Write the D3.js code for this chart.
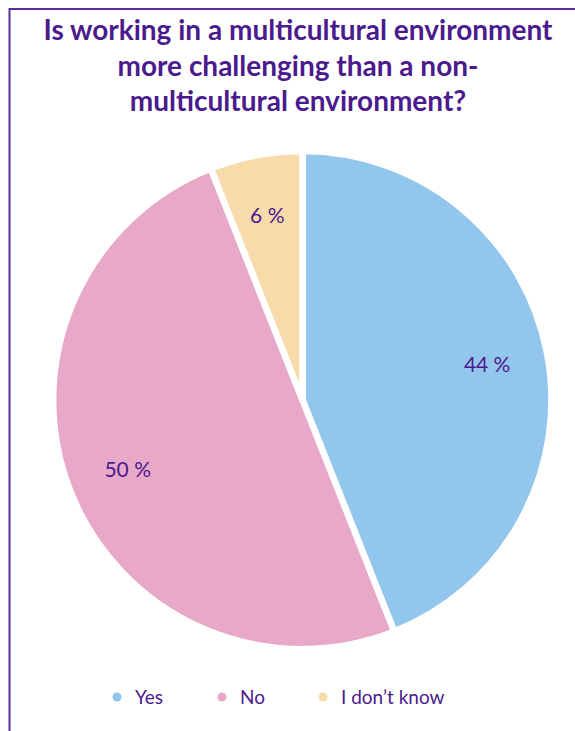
<!DOCTYPE html>
<html lang="en">
<head>
<meta charset="utf-8">
<title>Multicultural environment</title>
<style>
  body { margin: 0; background: #fff; }
  text { font-family: Lato, "Open Sans", sans-serif; fill: #4b1a8c; }
</style>
</head>
<body>
<div id="chart"></div>
<script src="https://d3js.org/d3.v7.min.js"></script>
<script>

const width = 575,
    height = 731

var titleLines = ["Is working in a multicultural environment",
                  "more challenging than a non-",
                  "multicultural environment?"];
var categories = ["Yes", "No", "I don\u2019t know"];
var values = [44, 50, 6];
var colors = ["#92c6ec", "#e8a9c9", "#f8dbaa"];

var svg = d3.select("#chart")
    .append("svg")
    .attr("width", width)
    .attr("height", height);

// frame (runs off right & bottom)
svg.append("path")
    .attr("d", "M9.5," + (height + 5) + "V9H" + (width + 5))
    .attr("fill", "none")
    .attr("stroke", "#5b2a9e")
    .attr("stroke-width", 2);

svg.append("g")
  .selectAll("text")
  .data(titleLines)
  .enter().append("text")
    .attr("x", 298)
    .attr("y", function(d, i) { return 40 + i * 35.5; })
    .attr("text-anchor", "middle")
    .style("font-size", "28px")
    .style("font-weight", "bold")
    .text(function(d) { return d; });

var cx = 302.5, cy = 400, radius = 249;

var pie = d3.pie().sort(null).value(function(d) { return d; });
var arcs = pie(values);

var arc = d3.arc().innerRadius(0).outerRadius(radius);
var labelArc = d3.arc().innerRadius(188).outerRadius(188);

var g = svg.append("g")
    .attr("transform", "translate(" + cx + "," + cy + ")");

g.selectAll("path")
  .data(arcs)
  .enter().append("path")
    .attr("d", arc)
    .attr("fill", function(d, i) { return colors[i]; })
    .attr("stroke", "#fff")
    .attr("stroke-width", 6.5)
    .attr("stroke-linejoin", "round");

g.selectAll("text")
  .data(arcs)
  .enter().append("text")
    .attr("transform", function(d) { return "translate(" + labelArc.centroid(d) + ")"; })
    .attr("text-anchor", "middle")
    .attr("dy", "0.35em")
    .style("font-size", "21px")
    .text(function(d) { return d.data + " %"; });

// legend
var legendX = [117, 222, 323];
var legend = svg.append("g")
  .selectAll("g")
  .data(categories)
  .enter().append("g")
    .attr("transform", function(d, i) { return "translate(" + legendX[i] + ",697)"; });

legend.append("circle")
    .attr("r", 4.5)
    .attr("fill", function(d, i) { return colors[i]; });

legend.append("text")
    .attr("x", 18)
    .attr("dy", "0.35em")
    .style("font-size", "19px")
    .text(function(d) { return d; });

</script>
</body>
</html>
